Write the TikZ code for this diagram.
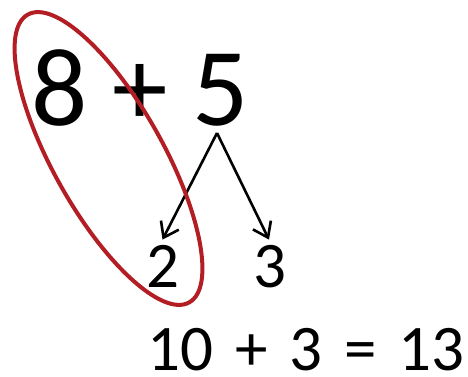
\documentclass[tikz,border=0pt]{standalone}
\usepackage{fontspec}
\setmainfont{Carlito}
\newfontfamily\widefont[WordSpace=1.5]{Carlito}
\usetikzlibrary{arrows.meta}
\begin{document}
\begin{tikzpicture}[x=1pt,y=-1pt,
  bigtxt/.style={inner sep=0pt,anchor=base west,font=\fontsize{111}{111}\selectfont},
  midtxt/.style={inner sep=0pt,anchor=base,font=\fontsize{65}{65}\selectfont},
  arr/.style={line width=2.6pt,-{Straight Barb[length=14pt,width=20pt,line width=2.6pt]}},
  ring/.style={line width=4pt,draw={rgb,255:red,178;green,30;blue,35}}]
\useasboundingbox (0,0) rectangle (468,377);
\node[bigtxt] (top) at (31,125) {8 + 5};
\coordinate (fork) at (217,133);
\node[midtxt] (two) at (162.5,287) {2};
\node[midtxt] (three) at (270,287) {3};
\node[midtxt,anchor=base west,font=\widefont\fontsize{65}{65}\selectfont] (sum) at (147,370) {10 + 3 = 13};
\draw[arr] (fork) -- ([yshift=5pt]two.north);
\draw[arr] (fork) -- ([yshift=5pt,xshift=-1pt]three.north);
\draw[ring,rotate around={-60.7:(108.5,158.5)}] (108.5,158.5) ellipse [x radius=165pt,y radius=55pt];
\end{tikzpicture}
\end{document}
